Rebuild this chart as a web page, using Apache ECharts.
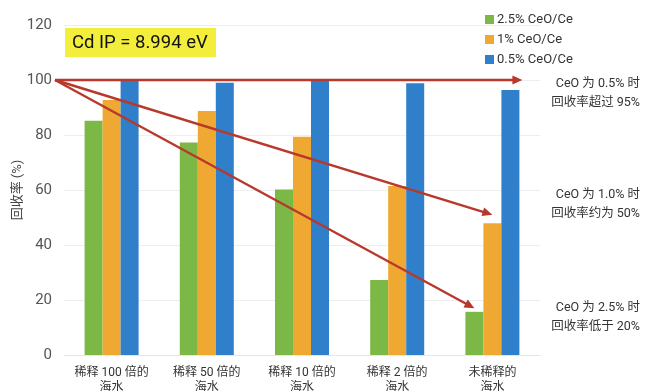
<!DOCTYPE html>
<html>
<head>
<meta charset="utf-8">
<script src="https://cdn.jsdelivr.net/npm/echarts@6/dist/echarts.min.js"></script>
<style>
  html, body { margin: 0; padding: 0; background: #fff; }
  #chart { width: 647px; height: 391px; }
</style>
</head>
<body>
<div id="chart"></div>
<script>
// Cd recovery rate for seawater samples at different dilutions
var categories = ['稀释 100 倍的\n海水', '稀释 50 倍的\n海水', '稀释 10 倍的\n海水', '稀释 2 倍的\n海水', '未稀释的\n海水'];
var seriesNames = ['2.5% CeO/Ce', '1% CeO/Ce', '0.5% CeO/Ce'];
var ceo25 = [85.2, 77.3, 60.2, 27.3, 15.7];
var ceo10 = [92.7, 88.7, 79.4, 61.5, 47.9];
var ceo05 = [100, 99.0, 99.6, 98.8, 96.4];
var yTicks = [0, 20, 40, 60, 80, 100, 120];

// trend arrows: start at 100%, end values on the last category
var trendStart = 100;
var trendEnds = [100, 51, 17];
var noteLines = [
  ['CeO 为 0.5% 时', '回收率超过 95%'],
  ['CeO 为 1.0% 时', '回收率约为 50%'],
  ['CeO 为 2.5% 时', '回收率低于 20%']
];
// value level of the top of each note block
var noteTops = [102, 61.6, 20.5];

var colors = ['#7cb845', '#efa831', '#2f7fca'];
var FONT = 'Roboto, "Noto Sans CJK SC", sans-serif';
var GRID = { left: 64, right: 107, top: 25, bottom: 36 };

var chart = echarts.init(document.getElementById('chart'), null, { renderer: 'canvas' });

var option = {
  animation: false,
  color: colors,
  textStyle: { fontFamily: FONT },
  grid: {
    left: GRID.left, right: GRID.right, top: GRID.top, bottom: GRID.bottom,
    containLabel: false,
    outerBoundsMode: 'none'
  },
  legend: {
    orient: 'vertical',
    left: 485,
    top: 13,
    padding: 0,
    itemWidth: 9,
    itemHeight: 9,
    itemGap: 7,
    icon: 'rect',
    data: seriesNames,
    textStyle: { fontFamily: FONT, fontSize: 13, color: '#333', padding: [0, 0, 0, -2] }
  },
  xAxis: {
    type: 'category',
    data: categories,
    axisLine: { show: true, lineStyle: { color: '#e3e6ea', width: 1 } },
    axisTick: { show: false },
    axisLabel: {
      fontFamily: FONT, fontSize: 12, color: '#333', margin: 10, lineHeight: 15, interval: 0
    }
  },
  yAxis: {
    type: 'value',
    min: 0,
    max: 120,
    interval: 20,
    name: '回收率 (%)',
    nameLocation: 'middle',
    nameGap: 40,
    nameMoveOverlap: false,
    nameRotate: 90,
    nameTextStyle: { fontFamily: FONT, fontSize: 13, color: '#444' },
    axisLine: { show: false },
    axisTick: { show: false },
    axisLabel: {
      fontFamily: FONT, fontSize: 15, color: '#555', margin: 12,
      formatter: function (v) { return yTicks.indexOf(v) >= 0 ? String(v) : ''; }
    },
    splitLine: { show: true, lineStyle: { color: '#eceef1', width: 1 } }
  },
  series: [
    { name: seriesNames[0], type: 'bar', data: ceo25, barWidth: 18, barGap: '0%' },
    { name: seriesNames[1], type: 'bar', data: ceo10, barWidth: 18, barGap: '0%' },
    { name: seriesNames[2], type: 'bar', data: ceo05, barWidth: 18, barGap: '0%' }
  ]
};

chart.setOption(option);

// annotation layer: info box, trend arrows and notes, placed through the axes
function px(cat, val) {
  return chart.convertToPixel({ gridIndex: 0 }, [cat, val]);
}

var last = categories.length - 1;
var barW = 18;
var startPt = [GRID.left - 9, px(0, trendStart)[1]];
var endCenter = px(last, 0)[0];
var arrowEnds = [
  [endCenter + 30, px(last, trendEnds[0])[1]],
  [endCenter, px(last, trendEnds[1])[1]],
  [endCenter - barW, px(last, trendEnds[2])[1]]
];

var arrowColor = '#b8392c';
var graphics = [];

// info box
graphics.push({
  type: 'rect',
  shape: { x: GRID.left + 1, y: 28, width: 151, height: 29 },
  style: { fill: '#f3ee3c' },
  z: 10
});
graphics.push({
  type: 'text',
  x: GRID.left + 8,
  y: 43,
  style: {
    text: 'Cd IP = 8.994 eV',
    font: '18.5px ' + FONT,
    fill: '#111',
    verticalAlign: 'middle'
  },
  z: 11
});

arrowEnds.forEach(function (end) {
  var dx = end[0] - startPt[0], dy = end[1] - startPt[1];
  var len = Math.sqrt(dx * dx + dy * dy);
  var ux = dx / len, uy = dy / len;
  var headL = 10, headW = 4.5;
  var bx = end[0] - ux * headL, by = end[1] - uy * headL;
  graphics.push({
    type: 'line',
    shape: { x1: startPt[0], y1: startPt[1], x2: bx + ux * 1, y2: by + uy * 1 },
    style: { stroke: arrowColor, lineWidth: 2.4 },
    z: 20
  });
  graphics.push({
    type: 'polygon',
    shape: {
      points: [
        [end[0], end[1]],
        [bx - uy * headW, by + ux * headW],
        [bx + uy * headW, by - ux * headW]
      ]
    },
    style: { fill: arrowColor },
    z: 21
  });
});

// notes at the right of the plot
noteLines.forEach(function (lines, i) {
  graphics.push({
    type: 'text',
    x: 640,
    y: px(0, noteTops[i])[1],
    style: {
      text: lines.join('\n'),
      font: '12.5px ' + FONT,
      fill: '#333',
      align: 'right',
      verticalAlign: 'top',
      lineHeight: 19
    },
    z: 12
  });
});

chart.setOption({ graphic: graphics });
</script>
</body>
</html>
